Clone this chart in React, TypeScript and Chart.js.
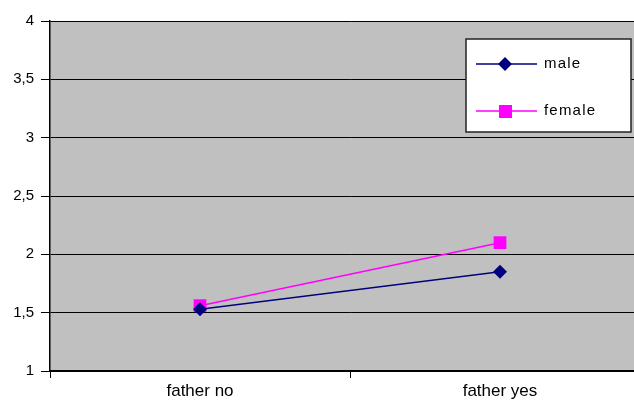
import React, { useEffect, useRef } from "react";
import { Chart, registerables } from "chart.js";

Chart.register(...registerables);

const categories = ["father no", "father yes"];
const maleValues = [1.53, 1.85];
const femaleValues = [1.56, 2.1];
const seriesNames = ["male", "female"];
const yMin = 1;
const yMax = 4;
const yStep = 0.5;

const FONT = "'Liberation Sans', Arial, sans-serif";

const bgPlugin = {
  id: "plotBg",
  beforeDraw(chart: any) {
    const { ctx, chartArea } = chart;
    ctx.save();
    ctx.fillStyle = "#c0c0c0";
    ctx.fillRect(chartArea.left, chartArea.top, chartArea.right - chartArea.left, chartArea.bottom - chartArea.top);
    ctx.restore();
  },
};

const legendPlugin = {
  id: "boxLegend",
  afterDraw(chart: any) {
    const { ctx } = chart;
    const x0 = 466, y0 = 39, w = 165, h = 93;
    ctx.save();
    ctx.fillStyle = "#ffffff";
    ctx.fillRect(x0, y0, w, h);
    ctx.strokeStyle = "#222";
    ctx.lineWidth = 1.5;
    ctx.strokeRect(x0, y0, w, h);
    const rows = [64, 111];
    chart.data.datasets.forEach((ds: any, i: number) => {
      const y = rows[i];
      ctx.strokeStyle = ds.borderColor;
      ctx.lineWidth = 1.5;
      ctx.beginPath();
      ctx.moveTo(476, y);
      ctx.lineTo(537, y);
      ctx.stroke();
      ctx.fillStyle = ds.borderColor;
      if (ds.pointStyle === "rectRot") {
        ctx.beginPath();
        ctx.moveTo(505, y - 7);
        ctx.lineTo(512, y);
        ctx.lineTo(505, y + 7);
        ctx.lineTo(498, y);
        ctx.closePath();
        ctx.fill();
      } else {
        ctx.fillRect(499, y - 6, 13, 13);
      }
      ctx.fillStyle = "#000";
      ctx.font = `15px ${FONT}`;
      (ctx as any).letterSpacing = "1.2px";
      ctx.textBaseline = "middle";
      ctx.textAlign = "left";
      ctx.fillText(ds.label, 544, y);
    });
    ctx.restore();
  },
};

export default function App() {
  const ref = useRef<HTMLCanvasElement>(null);
  useEffect(() => {
    if (!ref.current) return;
    const chart = new Chart(ref.current, {
      type: "line",
      data: {
        labels: categories,
        datasets: [
          {
            label: seriesNames[0],
            data: maleValues,
            borderColor: "#000080",
            backgroundColor: "#000080",
            borderWidth: 1.5,
            pointStyle: "rectRot",
            pointRadius: 7,
            pointBorderWidth: 0,
          },
          {
            label: seriesNames[1],
            data: femaleValues,
            borderColor: "#ff00ff",
            backgroundColor: "#ff00ff",
            borderWidth: 1.5,
            pointStyle: "rect",
            pointRadius: 9,
            pointBorderWidth: 0,
          },
        ],
      },
      options: {
        responsive: false,
        animation: false,
        devicePixelRatio: 1,
        layout: { padding: { top: 21, left: 0, right: 0, bottom: 0 } },
        plugins: { legend: { display: false }, tooltip: { enabled: false } },
        scales: {
          x: {
            type: "category",
            offset: true,
            grid: {
              offset: true,
              drawOnChartArea: false,
              drawTicks: true,
              tickLength: 7,
              tickColor: "#000",
              tickWidth: 1,
            },
            border: { display: true, color: "#000", width: 1.5 },
            ticks: { color: "#000", font: { family: FONT, size: 17 }, padding: 3, maxRotation: 0 },
            afterFit(scale: any) {
              scale.height = 29;
            },
          },
          y: {
            min: yMin,
            max: yMax,
            ticks: {
              stepSize: yStep,
              color: "#000",
              font: { family: FONT, size: 15 },
              padding: 7,
              callback: (v: any) => String(v).replace(".", ","),
            },
            grid: { color: "#000", lineWidth: 1, tickLength: 9, tickColor: "#000" },
            border: { display: true, color: "#000", width: 1.5 },
            afterFit(scale: any) {
              scale.width = 50;
            },
          },
        },
      },
      plugins: [bgPlugin, legendPlugin],
    });
    return () => chart.destroy();
  }, []);
  return (
    <div style={{ position: "fixed", left: 0, top: 0, width: 634, height: 400, overflow: "hidden", background: "#fff" }}>
      <canvas ref={ref} width={659} height={400} style={{ display: "block", width: 659, height: 400 }} />
    </div>
  );
}
